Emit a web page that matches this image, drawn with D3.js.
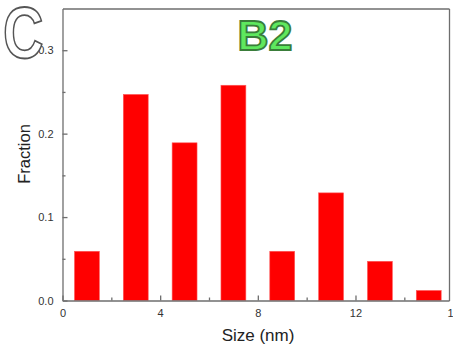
<!DOCTYPE html>
<html lang="en">
<head>
<meta charset="UTF-8">
<title>Size distribution B2</title>
<style>
    body { margin: 0; background: #fff; }
    #chart { width: 453px; height: 354px; }
    #chart text { font-family: "Liberation Sans", Arial, sans-serif; }
    .axis path, .axis line { stroke: #6e6e6e; stroke-width: 1.3px; }
    .axis text { fill: #333; font-size: 11px; }
</style>
</head>
<body>
<div id="chart"></div>
<script src="https://cdn.jsdelivr.net/npm/d3@7"></script>
<script>
// data
var sizes = [1, 3, 5, 7, 9, 11, 13, 15];
var fractions = [0.059, 0.247, 0.189, 0.258, 0.059, 0.129, 0.047, 0.012];
var xTicks = [0, 4, 8, 12, 16];
var xMinor = [2, 6, 10, 14];
var yTicks = [0, 0.1, 0.2, 0.3];
var yMinor = [0.05, 0.15, 0.25];

var W = 453, H = 354;
// plot box (window.top is reserved, so use mTop etc.)
var mLeft = 62.5, mRight = 449, mTop = 8.5, mBottom = 300.5;

var svg = d3.select("#chart").append("svg")
    .attr("width", W).attr("height", H);

var x = d3.scaleLinear().domain([0, 15.83]).range([mLeft, mRight]);
var y = d3.scaleLinear().domain([0, 0.35]).range([mBottom, mTop]);

// bars
svg.append("g").selectAll("rect")
    .data(sizes)
    .enter().append("rect")
    .attr("x", function (d) { return x(d - 0.51); })
    .attr("width", function () { return x(1.02) - x(0); })
    .attr("y", function (d, i) { return y(fractions[i]); })
    .attr("height", function (d, i) { return y(0) - y(fractions[i]); })
    .attr("fill", "#ff0000")
    .attr("stroke", "#ff5a5a")
    .attr("stroke-width", 0.6);

// minor ticks
svg.append("g").attr("class", "axis")
    .attr("transform", "translate(0," + mBottom + ")")
    .call(d3.axisBottom(x).tickValues(xMinor).tickSizeInner(-3).tickSizeOuter(0).tickFormat(""))
    .select(".domain").remove();
svg.append("g").attr("class", "axis")
    .attr("transform", "translate(" + mLeft + ",0)")
    .call(d3.axisLeft(y).tickValues(yMinor).tickSizeInner(-3).tickSizeOuter(0).tickFormat(""))
    .select(".domain").remove();

// main axes
svg.append("g").attr("class", "axis")
    .attr("transform", "translate(0," + mBottom + ")")
    .call(d3.axisBottom(x).tickValues(xTicks).tickSizeInner(-5).tickSizeOuter(0)
        .tickPadding(9).tickFormat(d3.format("d")));
svg.append("g").attr("class", "axis")
    .attr("transform", "translate(" + mLeft + ",0)")
    .call(d3.axisLeft(y).tickValues(yTicks).tickSizeInner(-5).tickSizeOuter(0)
        .tickPadding(9).tickFormat(d3.format(".1f")));

// frame top/right
svg.append("g").attr("class", "axis")
    .attr("transform", "translate(0," + mTop + ")")
    .call(d3.axisTop(x).tickValues([]).tickSizeOuter(0));
svg.append("g").attr("class", "axis")
    .attr("transform", "translate(" + mRight + ",0)")
    .call(d3.axisRight(y).tickValues([]).tickSizeOuter(0));

// axis titles
svg.append("text")
    .attr("x", 258).attr("y", 341)
    .attr("text-anchor", "middle")
    .attr("font-size", 17).attr("fill", "#222")
    .text("Size (nm)");
svg.append("text")
    .attr("transform", "translate(30,154) rotate(-90)")
    .attr("text-anchor", "middle")
    .attr("font-size", 16.5).attr("fill", "#222")
    .text("Fraction");

// panel letter
svg.append("text")
    .attr("transform", "translate(3,58) scale(1,1.28)")
    .attr("font-size", 56).attr("font-weight", "bold")
    .attr("fill", "#fff").attr("stroke", "#555").attr("stroke-width", 1.4)
    .text("C");

// sample label
svg.append("text")
    .attr("x", 265).attr("y", 50)
    .attr("text-anchor", "middle")
    .attr("font-size", 43).attr("font-weight", "bold")
    .attr("fill", "#5ee85e").attr("stroke", "#3a7d3a").attr("stroke-width", 1.8)
    .text("B2");
</script>
</body>
</html>
